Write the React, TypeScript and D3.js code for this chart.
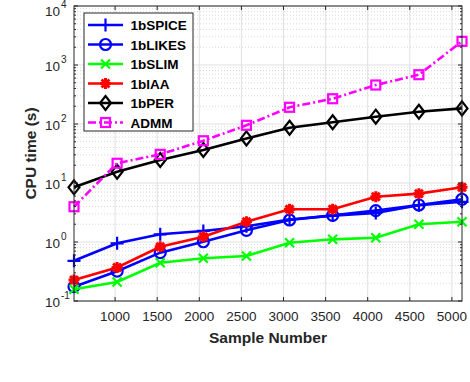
import * as d3 from 'd3';
import React from 'react';

// sample sizes (multiples of 512)
const samples = [512, 1024, 1536, 2048, 2560, 3072, 3584, 4096, 4608, 5120];
const xTicks = [1000, 1500, 2000, 2500, 3000, 3500, 4000, 4500, 5000];
const yDecades = [-1, 0, 1, 2, 3, 4];

const spice = [0.48, 0.95, 1.35, 1.54, 1.85, 2.4, 2.8, 3.1, 4.2, 4.8];
const likes = [0.175, 0.32, 0.66, 1.01, 1.58, 2.36, 2.83, 3.4, 4.24, 5.3];
const slim = [0.158, 0.21, 0.446, 0.53, 0.58, 0.97, 1.11, 1.18, 2.0, 2.21];
const iaa = [0.227, 0.37, 0.83, 1.23, 2.21, 3.58, 3.6, 5.86, 6.6, 8.45];
const per = [8.45, 15.5, 24.5, 36.2, 57, 86.5, 107, 133, 161, 184];
const admm = [3.96, 21.6, 30.6, 52, 95, 192, 268, 458, 685, 2520];

const seriesNames = ['1bSPICE', '1bLIKES', '1bSLIM', '1bIAA', '1bPER', 'ADMM'];
const seriesColors = ['#0000ff', '#0000ff', '#00ff00', '#ff0000', '#000000', '#ff00ff'];
const seriesMarkers = ['plus', 'circle', 'cross', 'star', 'diamond', 'square'];
const seriesData = [spice, likes, slim, iaa, per, admm];

const L = 74, R = 462, T = 6, B = 301;
const font = 'Liberation Sans, Arial, Helvetica, sans-serif';
const axisColor = '#262626';

function Marker({ type, x, y, color }: { type: string; x: number; y: number; color: string }) {
  const sw = 2.2;
  if (type === 'plus') {
    const s = 6.5;
    return <path d={`M${x - s},${y}H${x + s}M${x},${y - s}V${y + s}`} stroke={color} strokeWidth={sw} fill="none" />;
  }
  if (type === 'circle') {
    return <circle cx={x} cy={y} r={5.5} stroke={color} strokeWidth={sw} fill="none" />;
  }
  if (type === 'cross') {
    const s = 4.5;
    return <path d={`M${x - s},${y - s}L${x + s},${y + s}M${x - s},${y + s}L${x + s},${y - s}`} stroke={color} strokeWidth={sw} fill="none" />;
  }
  if (type === 'star') {
    const s = 5.5;
    const d = s * 0.72;
    return <path d={`M${x - s},${y}H${x + s}M${x},${y - s}V${y + s}M${x - d},${y - d}L${x + d},${y + d}M${x - d},${y + d}L${x + d},${y - d}`} stroke={color} strokeWidth={sw + 0.8} fill="none" />;
  }
  if (type === 'diamond') {
    const s = 7;
    return <path d={`M${x},${y - s}L${x + s * 0.78},${y}L${x},${y + s}L${x - s * 0.78},${y}Z`} stroke={color} strokeWidth={sw} fill="none" />;
  }
  const s = 4.5;
  return <rect x={x - s} y={y - s} width={2 * s} height={2 * s} stroke={color} strokeWidth={sw} fill="none" />;
}

export default function App() {
  const x = d3.scaleLinear().domain([512, 5120]).range([L, R]);
  const y = d3.scaleLog().domain([0.1, 10000]).range([B, T]);
  const line = d3.line<number>().x((_, i) => x(samples[i])).y((d) => y(d));

  const minor: number[] = [];
  yDecades.slice(0, -1).forEach((e) => {
    for (let k = 2; k <= 9; k++) minor.push(k * Math.pow(10, e));
  });

  return (
    <svg width={470} height={382} style={{ position: 'absolute', left: 0, top: 0, background: '#fff' }}>
      <rect x={0} y={0} width={470} height={382} fill="#fff" />
      {/* minor grid */}
      {minor.map((v) => (
        <line key={'mg' + v} x1={L} x2={R} y1={y(v)} y2={y(v)} stroke="#d9d9d9" strokeWidth={1} strokeDasharray="1,2" />
      ))}
      {/* major grid */}
      {yDecades.map((e) => (
        <line key={'yg' + e} x1={L} x2={R} y1={y(Math.pow(10, e))} y2={y(Math.pow(10, e))} stroke="#e0e0e0" strokeWidth={1} />
      ))}
      {xTicks.map((t) => (
        <line key={'xg' + t} x1={x(t)} x2={x(t)} y1={T} y2={B} stroke="#e0e0e0" strokeWidth={1} />
      ))}

      {/* series */}
      {seriesData.map((d, i) => (
        <g key={seriesNames[i]}>
          <path d={line(d) || ''} fill="none" stroke={seriesColors[i]} strokeWidth={2.6}
            strokeDasharray={seriesNames[i] === 'ADMM' ? '8,3,2,3' : undefined} />
          {d.map((v, j) => (
            <Marker key={j} type={seriesMarkers[i]} x={x(samples[j])} y={y(v)} color={seriesColors[i]} />
          ))}
        </g>
      ))}

      {/* axes box */}
      <rect x={L} y={T} width={R - L} height={B - T} fill="none" stroke={axisColor} strokeWidth={1} />
      {xTicks.map((t) => (
        <g key={'xt' + t}>
          <line x1={x(t)} x2={x(t)} y1={B} y2={B - 4} stroke={axisColor} />
          <line x1={x(t)} x2={x(t)} y1={T} y2={T + 4} stroke={axisColor} />
          <text x={x(t)} y={B + 20} textAnchor="middle" fontFamily={font} fontSize={13.5} fill={axisColor}>{t}</text>
        </g>
      ))}
      {minor.map((v) => (
        <g key={'mt' + v}>
          <line x1={L} x2={L + 2} y1={y(v)} y2={y(v)} stroke={axisColor} />
          <line x1={R} x2={R - 2} y1={y(v)} y2={y(v)} stroke={axisColor} />
        </g>
      ))}
      {yDecades.map((e) => {
        const ty = y(Math.pow(10, e)) + (e === 4 ? 4 : 0);
        return (
          <g key={'yt' + e}>
            <line x1={L} x2={L + 4} y1={y(Math.pow(10, e))} y2={y(Math.pow(10, e))} stroke={axisColor} />
            <line x1={R} x2={R - 4} y1={y(Math.pow(10, e))} y2={y(Math.pow(10, e))} stroke={axisColor} />
            <text x={L - 14} y={ty + 6} textAnchor="end" fontFamily={font} fontSize={13.5} fill={axisColor}>10</text>
            <text x={L - 13} y={ty - 2} textAnchor="start" fontFamily={font} fontSize={10} fill={axisColor}>{e}</text>
          </g>
        );
      })}

      <text x={(L + R) / 2} y={343} textAnchor="middle" fontFamily={font} fontSize={15.5} fontWeight="bold" fill={axisColor}>Sample Number</text>
      <text transform={`translate(36,${(T + B) / 2}) rotate(-90)`} textAnchor="middle" fontFamily={font} fontSize={15.5} fontWeight="bold" fill={axisColor}>CPU time (s)</text>

      {/* legend */}
      <rect x={84} y={13} width={109} height={118} fill="#fff" stroke={axisColor} strokeWidth={1} />
      {seriesNames.map((n, i) => {
        const ly = 25 + i * 19.5;
        return (
          <g key={'lg' + n}>
            <line x1={88} x2={123} y1={ly} y2={ly} stroke={seriesColors[i]} strokeWidth={2.6}
              strokeDasharray={n === 'ADMM' ? '8,3,2,3' : undefined} />
            <Marker type={seriesMarkers[i]} x={105.5} y={ly} color={seriesColors[i]} />
            <text x={130.5} y={ly + 5} fontFamily={font} fontSize={13.5} fontWeight="bold" fill="#000">{n}</text>
          </g>
        );
      })}
    </svg>
  );
}
